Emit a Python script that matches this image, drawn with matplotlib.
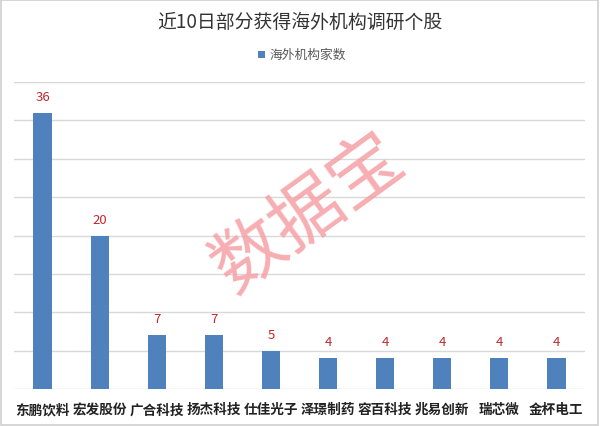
import matplotlib
matplotlib.use("Agg")
import matplotlib.pyplot as plt
from matplotlib.patches import Rectangle

plt.rcParams['font.family'] = ['Noto Sans CJK SC', 'DejaVu Sans']

categories = ["东鹏饮料", "宏发股份", "广合科技", "扬杰科技", "仕佳光子",
              "泽璟制药", "容百科技", "兆易创新", "瑞芯微", "金杯电工"]
values = [36, 20, 7, 7, 5, 4, 4, 4, 4, 4]
series_name = "海外机构家数"
title = "近10日部分获得海外机构调研个股"

fig = plt.figure(figsize=(6.0, 4.27), dpi=100)
ax = fig.add_axes([14/600, 1-390/427, (585-14)/600, (390-83)/427])

x = list(range(len(categories)))
ax.bar(x, values, width=0.32, color="#4F81BD", zorder=3, label=series_name)
for xi, v in zip(x, values):
    ax.text(xi, v + 1.3, str(v), ha="center", va="bottom", color="#C0282D",
            fontsize=9.5, zorder=4)

ax.set_xlim(-0.5, len(categories) - 0.5)
ax.set_ylim(0, 40)
ax.set_yticks(range(0, 41, 5))
ax.yaxis.grid(True, color="#D9D9D9", linewidth=1.0, zorder=0)
ax.tick_params(axis="y", left=False, labelleft=False)
ax.tick_params(axis="x", bottom=False, pad=6)
ax.set_xticks(x)
ax.set_xticklabels(categories, fontsize=9.8, fontweight="bold", color="#222222")
for s in ax.spines.values():
    s.set_visible(False)

fig.text(0.5, 1-22/427, title, ha="center", va="center", fontsize=13.6, color="#333333")

# legend
fig.patches.append(Rectangle((258/600, 1-59/427), 7/600, 7/427, transform=fig.transFigure,
                             facecolor="#4F81BD", edgecolor="none"))
fig.text(269/600, 1-55.5/427, series_name, ha="left", va="center", fontsize=9.2, color="#595959")

# watermark
fig.text(308/600, 1-214/427, "数据宝", ha="center", va="center", fontsize=52,
         color="#F5A0A4", alpha=0.85, rotation=36, zorder=10)

# border
fig.patches.append(Rectangle((0.002, 0.003), 0.995, 0.994, transform=fig.transFigure,
                             facecolor="none", edgecolor="#D0D0D0", linewidth=1.2))

fig.savefig("out.png", dpi=100)
